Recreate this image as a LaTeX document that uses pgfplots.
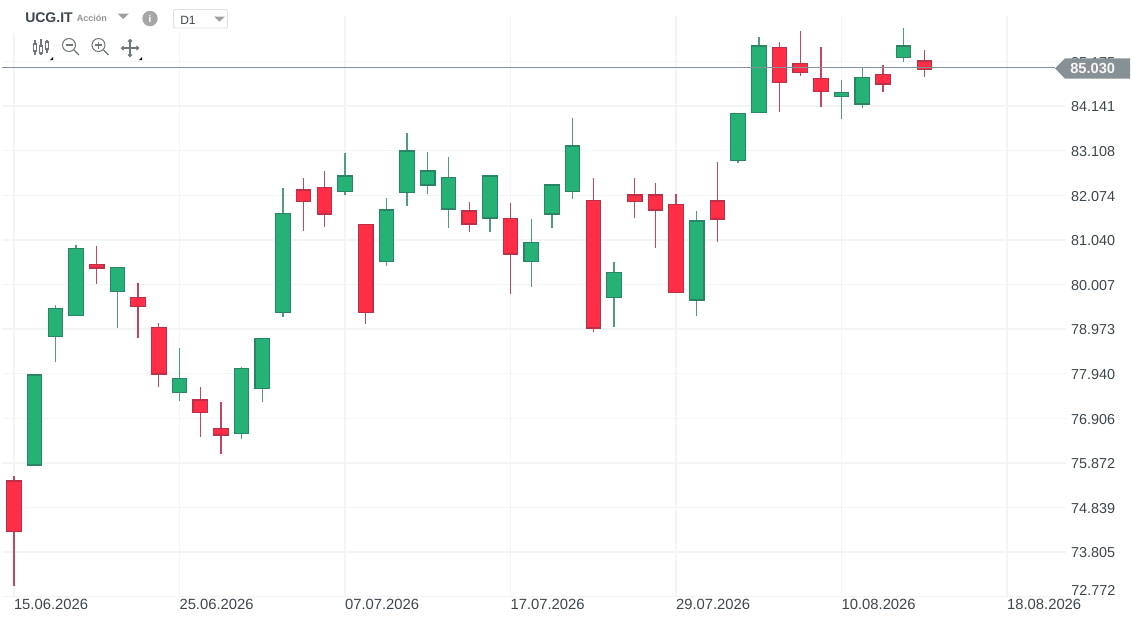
\documentclass[border=0pt]{standalone}
\usepackage{fontspec}
\setmainfont{Liberation Sans}
\usepackage{pgfplots}
\pgfplotsset{compat=1.18}
\definecolor{gridc}{HTML}{F2F4F6}
\definecolor{upfill}{HTML}{26B276}
\definecolor{updraw}{HTML}{2A8565}
\definecolor{upwick}{HTML}{4F9C80}
\definecolor{dnfill}{HTML}{FF2E46}
\definecolor{dndraw}{HTML}{BE3048}
\definecolor{dnwick}{HTML}{C2475D}
\definecolor{pricec}{HTML}{87929A}
\definecolor{badge}{HTML}{879094}
\definecolor{txt}{HTML}{3C464E}
\definecolor{icon}{HTML}{6F787D}
% index, low, body bottom, body top, high
\newcommand{\candle}[8]{%
  \pgfmathsetmacro{\xa}{#3-0.35}\pgfmathsetmacro{\xb}{#3+0.35}%
  \edef\doplot{\noexpand\addplot[#2,line width=1pt,forget plot] coordinates {(#3,#4)(#3,#7)};
    \noexpand\addplot[fill=#1,draw=#8,line width=0.85pt,forget plot] coordinates {(\xa,#5)(\xa,#6)(\xb,#6)(\xb,#5)} --cycle;}%
  \doplot}
\newcommand{\G}[5]{\candle{upfill}{upwick}{#1}{#2}{#3}{#4}{#5}{updraw}}
\newcommand{\R}[5]{\candle{dnfill}{dnwick}{#1}{#2}{#3}{#4}{#5}{dndraw}}
\begin{document}
\begin{tikzpicture}
\path[use as bounding box] (0,0) rectangle (853.5pt,-466.5pt);
\begin{axis}[
  at={(1.5pt,-447.525pt)},anchor=south west,
  scale only axis,width=798pt,height=435.525pt,
  xmin=-0.58,xmax=50.846,ymin=72.772,ymax=86.227,
  clip=false,
  axis line style={draw=none},
  major tick length=0pt,
  tick style={draw=none},
  grid=major,
  grid style={gridc,line width=1pt},
  xtick={0,8,16,24,32,40,48},
  xticklabels={15.06.2026,25.06.2026,07.07.2026,17.07.2026,29.07.2026,10.08.2026,18.08.2026},
  xticklabel style={anchor=north west,xshift=-0.2pt,yshift=0pt,font=\fontsize{11.1}{13}\selectfont,text=txt,inner xsep=0pt,inner ysep=1.5pt},
  ytick={72.772,73.805,74.839,75.872,76.906,77.940,78.973,80.007,81.040,82.074,83.108,84.141,85.175},
  yticklabels={,73.805,74.839,75.872,76.906,77.940,78.973,80.007,81.040,82.074,83.108,84.141,85.175},
  yticklabel pos=right,
  yticklabel style={anchor=west,font=\fontsize{10.8}{13}\selectfont,text=txt,inner xsep=0pt,xshift=3.7pt,yshift=-0.6pt},
]
\R{0}{73.027}{74.287}{75.453}{75.576}
\G{1}{75.823}{75.823}{77.909}{77.909}
\G{2}{78.217}{78.796}{79.445}{79.538}
\G{3}{79.292}{79.292}{80.835}{80.928}
\R{4}{80.010}{80.388}{80.464}{80.905}
\G{5}{78.998}{79.839}{80.404}{80.404}
\R{6}{78.766}{79.491}{79.709}{80.033}
\R{7}{77.638}{77.932}{79.014}{79.107}
\G{8}{77.313}{77.499}{77.823}{78.527}
\R{9}{76.479}{77.035}{77.329}{77.624}
\R{10}{76.071}{76.519}{76.665}{77.276}
\G{11}{76.426}{76.549}{78.055}{78.087}
\G{12}{77.290}{77.591}{78.750}{78.750}
\G{13}{79.260}{79.352}{81.646}{82.235}
\R{14}{81.252}{81.933}{82.195}{82.466}
\R{15}{81.345}{81.639}{82.258}{82.642}
\G{16}{82.072}{82.165}{82.520}{83.046}
\R{17}{79.090}{79.352}{81.391}{81.391}
\G{18}{80.441}{80.534}{81.732}{82.003}
\G{19}{81.831}{82.133}{83.099}{83.509}
\G{20}{82.096}{82.311}{82.635}{83.076}
\G{21}{81.315}{81.755}{82.490}{82.960}
\R{22}{81.229}{81.407}{81.709}{81.910}
\G{23}{81.229}{81.547}{82.520}{82.520}
\R{24}{79.779}{80.712}{81.530}{81.887}
\G{25}{79.955}{80.534}{80.983}{81.516}
\G{26}{81.315}{81.639}{82.311}{82.311}
\G{27}{81.980}{82.165}{83.215}{83.856}
\R{28}{78.912}{78.998}{81.947}{82.466}
\G{29}{79.028}{79.700}{80.288}{80.520}
\R{30}{81.547}{81.924}{82.079}{82.466}
\R{31}{80.851}{81.732}{82.079}{82.350}
\R{32}{79.816}{79.816}{81.855}{82.096}
\G{33}{79.283}{79.647}{81.477}{81.709}
\R{34}{80.997}{81.523}{81.940}{82.844}
\G{35}{82.821}{82.883}{83.963}{83.963}
\G{36}{83.986}{83.986}{85.532}{85.747}
\R{37}{84.003}{84.681}{85.502}{85.624}
\R{38}{84.844}{84.913}{85.122}{85.886}
\R{39}{84.125}{84.482}{84.774}{85.509}
\G{40}{83.833}{84.357}{84.459}{84.751}
\G{41}{84.095}{84.188}{84.807}{85.038}
\R{42}{84.473}{84.651}{84.867}{85.098}
\G{43}{85.168}{85.261}{85.532}{85.942}
\R{44}{84.820}{84.992}{85.184}{85.446}
\addplot[pricec,line width=0.8pt,forget plot] coordinates {(-0.58,85.03)(50.3,85.03)};
\end{axis}
\begin{scope}[x=0.75pt,y=-0.75pt]
% white panel behind the toolbar
\fill[white] (0,0) rectangle (230,33);
\fill[white] (15,33) rectangle (150,60.5);
% price badge
\fill[badge] (1055,68.3) -- (1065,58.3) -- (1130,58.3) -- (1130,78.7) -- (1065,78.7) -- cycle;
\node[anchor=west,inner sep=0pt,text=white!96!black,font=\bfseries\fontsize{11}{13}\selectfont] at (1070,68.6) {85.030};
\node[anchor=west,inner sep=0pt,text=txt,font=\fontsize{10.8}{13}\selectfont] at (1071,590.5) {72.772};
% header
\node[anchor=west,inner sep=0pt,text=txt,font=\bfseries\fontsize{10.5}{12}\selectfont] at (25,17.5) {UCG.IT};
\node[anchor=west,inner sep=0pt,text=gray!85,font=\bfseries\fontsize{6.8}{8}\selectfont] at (76.5,18) {Acción};
\fill[gray!75] (117.5,13.5) -- (129,13.5) -- (123.2,19) -- cycle;
\fill[gray!70] (150,18.5) circle (7.7);
\node[inner sep=0pt,text=white,font=\bfseries\fontsize{7.5}{8}\selectfont] at (150,18.8) {i};
\draw[gray!25,line width=0.7pt,rounded corners=1pt] (173.5,9.5) rectangle (227.5,28);
\node[anchor=west,inner sep=0pt,text=txt,font=\fontsize{9}{11}\selectfont] at (180,20) {D1};
\fill[gray!75] (214,16.5) -- (225,16.5) -- (219.5,21.5) -- cycle;
% toolbar icons
\begin{scope}[draw=icon,line width=0.8pt]
\draw (35,40) -- (35,55); \draw (41,39) -- (41,55); \draw (47,40) -- (47,53);
\draw[fill=white] (33.7,44) rectangle (36.3,51);
\draw[fill=white] (39.7,46) rectangle (42.3,53);
\draw[fill=white] (45.7,42) rectangle (48.3,49);
\draw (69,45) circle (6.5); \draw (74,50) -- (79,55); \draw (65.5,45) -- (72.5,45);
\draw (98.5,45) circle (6.5); \draw (103.5,50) -- (108.5,55); \draw (95,45) -- (102,45); \draw (98.5,41.5) -- (98.5,48.5);
\draw (122,48) -- (138,48); \draw (130,40) -- (130,56);
\draw (123.5,46) -- (121.5,48) -- (123.5,50); \draw (136.5,46) -- (138.5,48) -- (136.5,50);
\draw (128,41.5) -- (130,39.5) -- (132,41.5); \draw (128,54.5) -- (130,56.5) -- (132,54.5);
\end{scope}
\fill[black] (50,60) -- (53,60) -- (53,57) -- cycle;
\fill[black] (139,60) -- (142,60) -- (142,57) -- cycle;
\end{scope}
\end{tikzpicture}
\end{document}
